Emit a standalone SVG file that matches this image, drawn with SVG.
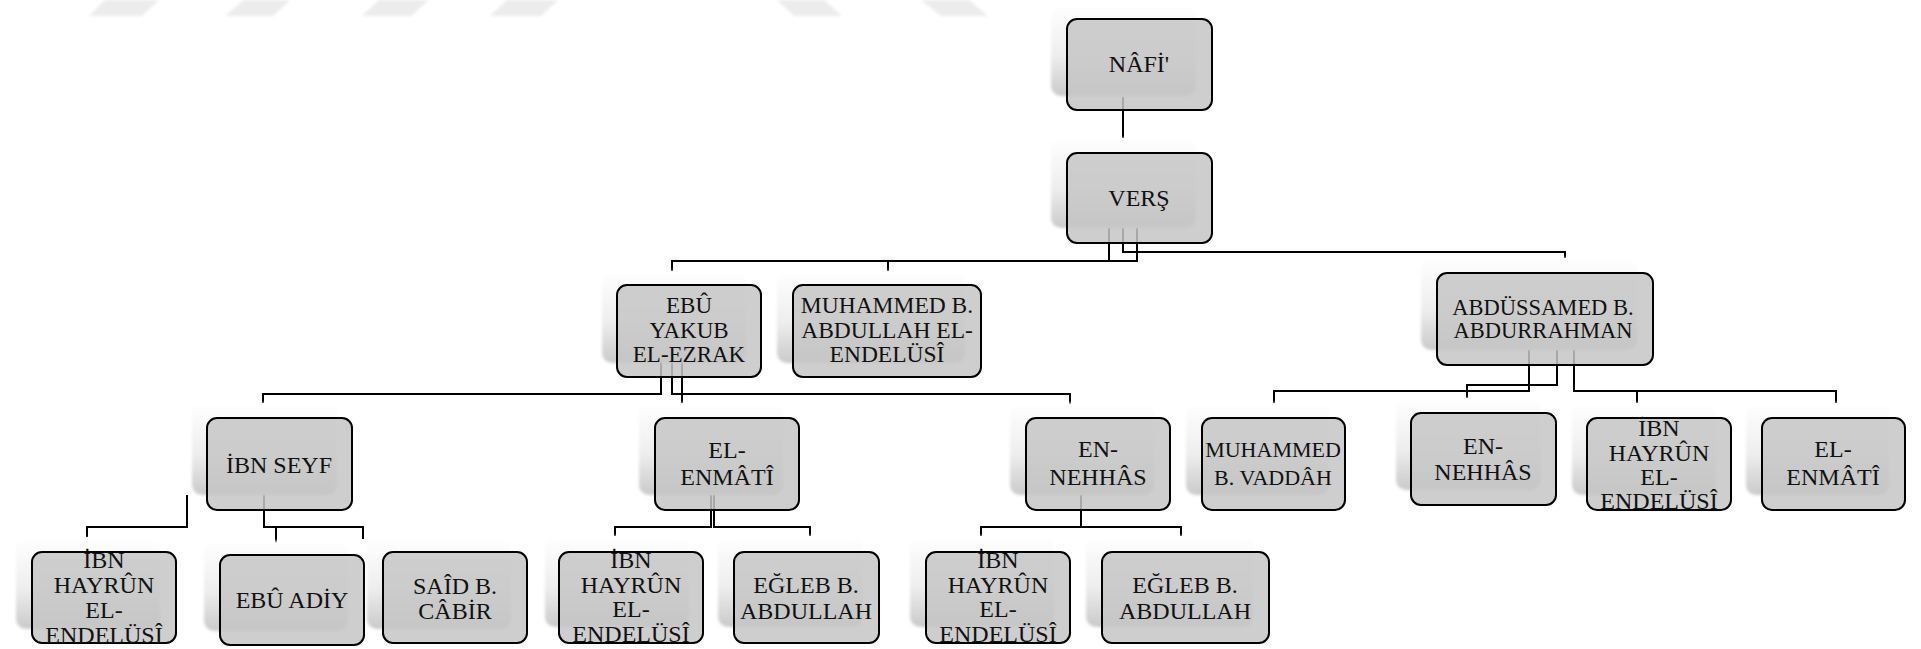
<svg xmlns="http://www.w3.org/2000/svg" width="1921" height="649" viewBox="0 0 1921 649">
<style>
.sh{fill:url(#sg);filter:url(#bl)}
.bx{fill:#c6c6c6;fill-opacity:0.85;stroke:#000;stroke-width:2}
.t{font-family:"Liberation Serif","Times New Roman",serif;font-size:24px;fill:#111;text-anchor:middle}
.c{fill:none;stroke:#000;stroke-width:2}
.wm{fill:#ececec;filter:url(#bl)}
</style>
<defs>
<linearGradient id="sg" x1="0" y1="0" x2="0" y2="1">
<stop offset="0" stop-color="#ffffff"/>
<stop offset="0.55" stop-color="#eeeeee"/>
<stop offset="1" stop-color="#cacaca"/>
</linearGradient>
<filter id="bl" x="-10%" y="-10%" width="120%" height="120%"><feGaussianBlur stdDeviation="1.5"/></filter>
</defs>
<rect width="1921" height="649" fill="#fff"/>
<g id="watermark">
<polygon class="wm" points="105,0 159,0 142,16 89,16"/>
<polygon class="wm" points="244,0 290,0 273,16 225,16"/>
<polygon class="wm" points="379,0 429,0 411,16 362,16"/>
<polygon class="wm" points="507,0 558,0 541,16 490,16"/>
<polygon class="wm" points="777,0 824,0 842,16 794,16"/>
<polygon class="wm" points="921,0 969,0 988,16 941,16"/>
</g>
<g id="connectors">
<path class="c" d="M1123,97V138"/>
<path class="c" d="M1109,228V261H672V271"/>
<path class="c" d="M1137,228V261H888V271"/>
<path class="c" d="M1123,228V252H1565V258"/>
<path class="c" d="M661,362V394H263V403"/>
<path class="c" d="M672,362V394H1070V404"/>
<path class="c" d="M682,362V403"/>
<path class="c" d="M1529,350V391H1274V403"/>
<path class="c" d="M1557,350V385H1467V398"/>
<path class="c" d="M1574,350V391H1637V403"/>
<path class="c" d="M1574,391H1836V403"/>
<path class="c" d="M187,495V527H87V537"/>
<path class="c" d="M264,495V527H363V539"/>
<path class="c" d="M276,527V543"/>
<path class="c" d="M711,495V527H615V536"/>
<path class="c" d="M714,495V527H810V536"/>
<path class="c" d="M1081,495V527H981V536"/>
<path class="c" d="M1081,527H1181V536"/>
</g>
<g id="n1"><rect class="sh" x="1051" y="5" width="145" height="91" rx="10"/><rect class="bx" x="1067" y="19" width="145" height="91" rx="10"/><text class="t" x="1139" y="72">NÂFİ'</text></g>
<g id="n2"><rect class="sh" x="1051" y="138" width="145" height="90" rx="10"/><rect class="bx" x="1067" y="153" width="145" height="90" rx="10"/><text class="t" x="1139" y="206">VERŞ</text></g>
<g id="n3"><rect class="sh" x="602" y="271" width="144" height="92" rx="10"/><rect class="bx" x="617" y="285" width="144" height="92" rx="10"/><text class="t" style="font-size:23px"><tspan x="689" y="313">EBÛ</tspan><tspan x="689" y="338">YAKUB</tspan><tspan x="689" y="362">EL-EZRAK</tspan></text></g>
<g id="n4"><rect class="sh" x="777" y="271" width="188" height="92" rx="10"/><rect class="bx" x="793" y="285" width="188" height="92" rx="10"/><text class="t" style="font-size:23.5px"><tspan x="887" y="313">MUHAMMED B.</tspan><tspan x="887" y="338">ABDULLAH EL-</tspan><tspan x="887" y="362">ENDELÜSÎ</tspan></text></g>
<g id="n5"><rect class="sh" x="1421" y="258" width="216" height="92" rx="10"/><rect class="bx" x="1437" y="273" width="216" height="92" rx="10"/><text class="t" style="font-size:22.5px"><tspan x="1543" y="315">ABDÜSSAMED B.</tspan><tspan x="1543" y="338">ABDURRAHMAN</tspan></text></g>
<g id="n6"><rect class="sh" x="192" y="403" width="145" height="92" rx="10"/><rect class="bx" x="207" y="418" width="145" height="92" rx="10"/><text class="t" x="279" y="473">İBN SEYF</text></g>
<g id="n7"><rect class="sh" x="639" y="403" width="144" height="92" rx="10"/><rect class="bx" x="655" y="418" width="144" height="92" rx="10"/><text class="t"><tspan x="727" y="458">EL-</tspan><tspan x="727" y="485">ENMÂTÎ</tspan></text></g>
<g id="n8"><rect class="sh" x="1010" y="403" width="144" height="92" rx="10"/><rect class="bx" x="1026" y="418" width="144" height="92" rx="10"/><text class="t"><tspan x="1098" y="457">EN-</tspan><tspan x="1098" y="485">NEHHÂS</tspan></text></g>
<g id="n9"><rect class="sh" x="1186" y="403" width="143" height="92" rx="10"/><rect class="bx" x="1202" y="418" width="143" height="92" rx="10"/><text class="t" style="font-size:22px"><tspan x="1273" y="457">MUHAMMED</tspan><tspan x="1273" y="485">B. VADDÂH</tspan></text></g>
<g id="n10"><rect class="sh" x="1396" y="398" width="145" height="92" rx="10"/><rect class="bx" x="1411" y="413" width="145" height="92" rx="10"/><text class="t"><tspan x="1483" y="454">EN-</tspan><tspan x="1483" y="480">NEHHÂS</tspan></text></g>
<g id="n11"><rect class="sh" x="1572" y="403" width="144" height="92" rx="10"/><rect class="bx" x="1587" y="418" width="144" height="92" rx="10"/><text class="t"><tspan x="1659" y="436">İBN</tspan><tspan x="1659" y="461">HAYRÛN</tspan><tspan x="1659" y="485">EL-</tspan><tspan x="1659" y="509">ENDELÜSÎ</tspan></text></g>
<g id="n12"><rect class="sh" x="1746" y="403" width="143" height="92" rx="10"/><rect class="bx" x="1762" y="418" width="143" height="92" rx="10"/><text class="t"><tspan x="1833" y="457">EL-</tspan><tspan x="1833" y="485">ENMÂTÎ</tspan></text></g>
<g id="n13"><rect class="sh" x="16" y="538" width="144" height="91" rx="10"/><rect class="bx" x="32" y="552" width="144" height="91" rx="10"/><text class="t"><tspan x="104" y="568">İBN</tspan><tspan x="104" y="593">HAYRÛN</tspan><tspan x="104" y="618">EL-</tspan><tspan x="104" y="643">ENDELÜSÎ</tspan></text></g>
<g id="n14"><rect class="sh" x="204" y="541" width="144" height="90" rx="10"/><rect class="bx" x="220" y="555" width="144" height="90" rx="10"/><text class="t" x="292" y="608">EBÛ ADİY</text></g>
<g id="n15"><rect class="sh" x="367" y="538" width="144" height="91" rx="10"/><rect class="bx" x="383" y="552" width="144" height="91" rx="10"/><text class="t"><tspan x="455" y="594">SAÎD B.</tspan><tspan x="455" y="619">CÂBİR</tspan></text></g>
<g id="n16"><rect class="sh" x="545" y="536" width="144" height="91" rx="10"/><rect class="bx" x="559" y="552" width="144" height="91" rx="10"/><text class="t"><tspan x="631" y="568">İBN</tspan><tspan x="631" y="593">HAYRÛN</tspan><tspan x="631" y="617">EL-</tspan><tspan x="631" y="642">ENDELÜSÎ</tspan></text></g>
<g id="n17"><rect class="sh" x="718" y="536" width="145" height="91" rx="10"/><rect class="bx" x="734" y="552" width="145" height="91" rx="10"/><text class="t"><tspan x="806" y="593">EĞLEB B.</tspan><tspan x="806" y="619">ABDULLAH</tspan></text></g>
<g id="n18"><rect class="sh" x="910" y="536" width="144" height="91" rx="10"/><rect class="bx" x="926" y="552" width="144" height="91" rx="10"/><text class="t"><tspan x="998" y="568">İBN</tspan><tspan x="998" y="593">HAYRÛN</tspan><tspan x="998" y="617">EL-</tspan><tspan x="998" y="642">ENDELÜSÎ</tspan></text></g>
<g id="n19"><rect class="sh" x="1086" y="536" width="167" height="91" rx="10"/><rect class="bx" x="1102" y="552" width="167" height="91" rx="10"/><text class="t"><tspan x="1185" y="593">EĞLEB B.</tspan><tspan x="1185" y="619">ABDULLAH</tspan></text></g>
</svg>
